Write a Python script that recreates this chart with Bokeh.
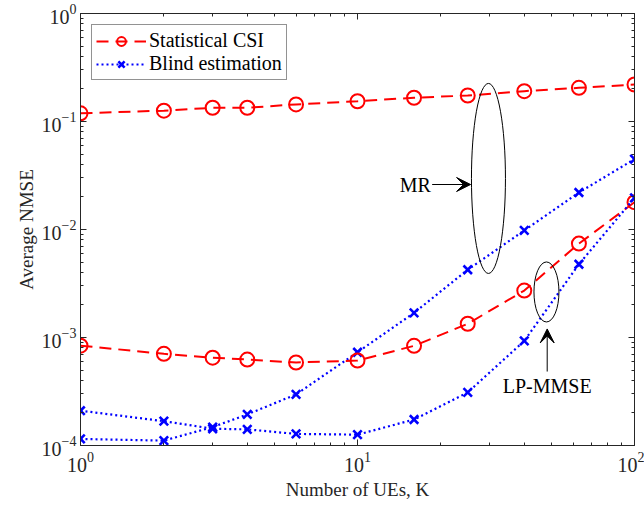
import numpy as np
from bokeh.plotting import figure
from bokeh.models import (LogAxis, FixedTicker, Legend, LegendItem, Label, Arrow,
                          VeeHead, Range1d, CustomJSTickFormatter)
from bokeh.embed import file_html
from bokeh.resources import INLINE

# ---- data ----
K = [1, 2, 3, 4, 6, 10, 16, 25, 40, 63, 100]
mr_stat = [0.119, 0.126, 0.134, 0.134, 0.144, 0.154, 0.166, 0.174, 0.191, 0.205, 0.220]
mr_blind = [1.15e-4, 1.11e-4, 1.48e-4, 1.94e-4, 2.97e-4, 7.3e-4, 1.69e-3, 4.24e-3, 9.8e-3, 0.022, 0.0448]
lp_stat = [8.4e-4, 7.06e-4, 6.5e-4, 6.25e-4, 5.87e-4, 6.12e-4, 8.37e-4, 1.34e-3, 2.72e-3, 7.4e-3, 0.0179]
lp_blind = [2.1e-4, 1.68e-4, 1.43e-4, 1.41e-4, 1.28e-4, 1.26e-4, 1.74e-4, 3.1e-4, 9.3e-4, 4.77e-3, 0.0196]

FONT = "Liberation Serif"
AX = "#262626"

p = figure(width=644, height=514, x_axis_type="log", y_axis_type="log",
           x_range=Range1d(1, 100), y_range=Range1d(1e-4, 1),
           output_backend="svg", toolbar_location=None,
           min_border_left=80, min_border_right=10, min_border_top=13, min_border_bottom=69)
p.grid.visible = False
p.outline_line_color = AX
p.outline_line_width = 1
p.background_fill_color = "white"
p.border_fill_color = "white"

major_y = [1e-4, 1e-3, 1e-2, 1e-1, 1]
minor_y = [m * 10.0 ** k for k in range(-4, 0) for m in range(2, 10)]
major_x = [1, 10, 100]
minor_x = [m * 10.0 ** k for k in range(0, 2) for m in range(2, 10)]

def style(ax):
    ax.major_tick_in = 6
    ax.major_tick_out = 0
    ax.minor_tick_in = 3
    ax.minor_tick_out = 0
    ax.axis_line_color = AX
    ax.major_tick_line_color = AX
    ax.minor_tick_line_color = AX
    ax.major_label_text_font = FONT
    ax.major_label_text_color = AX
    ax.major_label_text_font_size = "20px"
    ax.axis_label_text_font = FONT
    ax.axis_label_text_font_style = "normal"
    ax.axis_label_text_font_size = "19px"
    ax.axis_label_text_color = AX

p.xaxis.ticker = FixedTicker(ticks=major_x, minor_ticks=minor_x)
p.yaxis.ticker = FixedTicker(ticks=major_y, minor_ticks=minor_y)
style(p.xaxis[0]); style(p.yaxis[0])
p.xaxis.axis_label = "Number of UEs, K"
p.yaxis.axis_label = "Average NMSE"
p.xaxis.major_label_standoff = 6
p.yaxis.major_label_standoff = 4
p.xaxis.axis_label_standoff = 4
p.yaxis.axis_label_standoff = 2

ra = LogAxis(ticker=FixedTicker(ticks=major_y, minor_ticks=minor_y),
             formatter=CustomJSTickFormatter(code="return ''"))
style(ra)
ta = LogAxis(ticker=FixedTicker(ticks=major_x, minor_ticks=minor_x),
             formatter=CustomJSTickFormatter(code="return ''"))
style(ta)
p.add_layout(ra, "right")
p.add_layout(ta, "above")

RED = "#FF0000"
BLUE = "#0000FF"

def stat(y):
    l = p.line(K, y, line_color=RED, line_width=2, line_dash="12 7")
    s = p.scatter(K, y, marker="circle", size=14, fill_color=None, line_color=RED, line_width=2)
    return l, s

def blind(y):
    l = p.line(K, y, line_color=BLUE, line_width=2.2, line_dash="2 3")
    s = p.scatter(K, y, marker="x", size=12, line_color=BLUE, line_width=2.6)
    return l, s

l1, s1 = stat(mr_stat)
l2, s2 = blind(mr_blind)
l3, s3 = stat(lp_stat)
l4, s4 = blind(lp_blind)

# ---- annotations ----
p.ellipse(x=[29.7], y=[0.0297], width=34, height=190, width_units="screen", height_units="screen",
          fill_color=None, line_color="black", line_width=1)
p.ellipse(x=[48.1], y=[2.64e-3], width=25, height=60, width_units="screen", height_units="screen",
          fill_color=None, line_color="black", line_width=1)

p.add_layout(Arrow(end=VeeHead(size=14, fill_color="black", line_color="black"),
                   x_start=18.6, y_start=0.0261, x_end=25.6, y_end=0.0261,
                   line_color="black", line_width=1))
p.add_layout(Label(x=18.4, y=0.0261, text="MR", text_font=FONT, text_font_size="20px",
                   text_align="right", text_baseline="middle", text_color="black"))

p.add_layout(Arrow(end=VeeHead(size=14, fill_color="black", line_color="black"),
                   x_start=48.4, y_start=4.84e-4, x_end=48.4, y_end=1.2e-3,
                   line_color="black", line_width=1))
p.add_layout(Label(x=48.4, y=4.5e-4, text="LP-MMSE", text_font=FONT, text_font_size="20px",
                   text_align="center", text_baseline="top", text_color="black"))

legend = Legend(items=[LegendItem(label="Statistical CSI", renderers=[l1, s1]),
                       LegendItem(label="Blind estimation", renderers=[l2, s2])],
                location="top_left")
legend.margin = 11
legend.padding = 4
legend.spacing = 0
legend.glyph_width = 50
legend.glyph_height = 22
legend.label_height = 22
legend.label_standoff = 3
legend.label_text_font = FONT
legend.label_text_font_size = "20px"
legend.label_text_color = "black"
legend.border_line_color = AX
legend.border_line_width = 1
legend.background_fill_alpha = 1
p.add_layout(legend, "center")

open("out.html", "w").write(file_html(p, INLINE))
